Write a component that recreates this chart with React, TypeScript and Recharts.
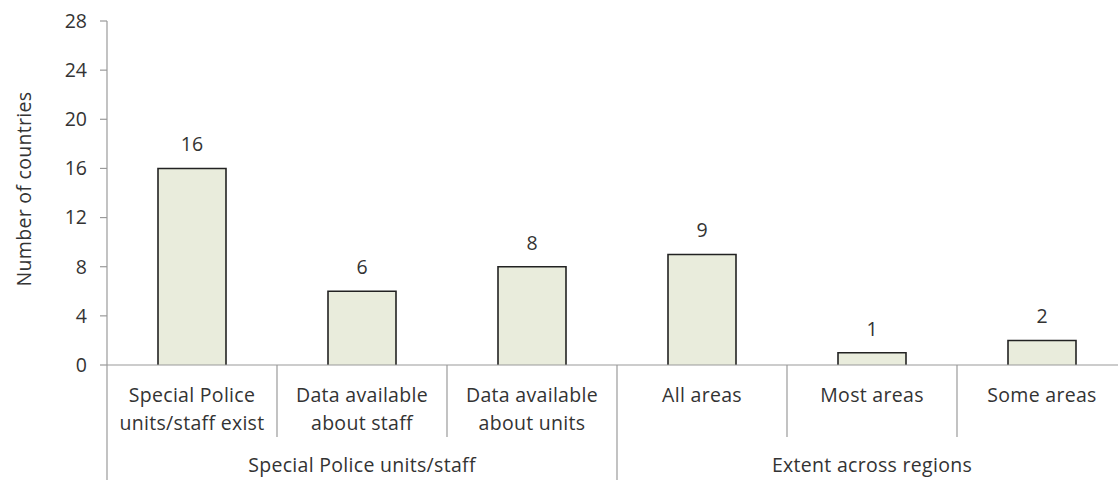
import React from 'react';
import { BarChart, Bar, XAxis, YAxis, LabelList } from 'recharts';

const categories: string[] = [
  'Special Police\nunits/staff exist',
  'Data available\nabout staff',
  'Data available\nabout units',
  'All areas',
  'Most areas',
  'Some areas',
];
const values: number[] = [16, 6, 8, 9, 1, 2];
const groupNames: string[] = ['Special Police units/staff', 'Extent across regions'];
const groupSizes: number[] = [3, 3];
const yTicks: number[] = [0, 4, 8, 12, 16, 20, 24, 28];
const yLabel = 'Number of countries';

const data = categories.map((c, i) => ({ category: c, value: values[i] }));

const FONT = '"Open Sans", sans-serif';
const FS = 19.5;
const LS = 0.3;
const TEXT = '#333333';
const AXIS = '#9a9a9a';
const FILL = '#e9ecdc';

const groupStarts: number[] = [];
const groupEnds: number[] = [];
{
  let s = 0;
  groupSizes.forEach((n) => {
    groupStarts.push(s);
    groupEnds.push(s + n - 1);
    s += n;
  });
}

const CategoryTick = (props: any) => {
  const { x, y, payload, index } = props;
  const half = payload && payload.offset ? payload.offset : 85;
  const lines = String(payload.value).split('\n');
  const gi = groupStarts.indexOf(index);
  const isGroupEnd = groupEnds.indexOf(index) >= 0;
  return (
    <g>
      {lines.map((l, i) => (
        <text
          key={i}
          x={x}
          y={y + 37 + i * 28}
          textAnchor="middle"
          fontFamily={FONT}
          fontSize={FS}
          letterSpacing={LS}
          fill={TEXT}
        >
          {l}
        </text>
      ))}
      {index === 0 && (
        <line x1={x - half} y1={y} x2={x - half} y2={y + 115} stroke={AXIS} strokeWidth={1.2} />
      )}
      <line
        x1={x + half}
        y1={y}
        x2={x + half}
        y2={isGroupEnd ? y + 115 : y + 72}
        stroke={AXIS}
        strokeWidth={1.2}
      />
      {gi >= 0 && (
        <text
          x={x - half + groupSizes[gi] * half}
          y={y + 107}
          textAnchor="middle"
          fontFamily={FONT}
          fontSize={FS}
          letterSpacing={LS}
          fill={TEXT}
        >
          {groupNames[gi]}
        </text>
      )}
    </g>
  );
};

const BarShape = (props: any) => {
  const { x, y, width, height } = props;
  if (!height || height <= 0) return null;
  return (
    <g>
      <rect x={x} y={y} width={width} height={height} fill={FILL} />
      <path
        d={`M${x},${y + height} L${x},${y} L${x + width},${y} L${x + width},${y + height}`}
        fill="none"
        stroke="#222"
        strokeWidth={1.6}
      />
    </g>
  );
};

const YLabel = (props: any) => {
  const vb = props.viewBox || { x: 0, y: 21, width: 107, height: 344 };
  const cx = 23;
  const cy = vb.y + vb.height / 2 - 4;
  return (
    <text
      x={cx}
      y={cy}
      transform={`rotate(-90, ${cx}, ${cy})`}
      textAnchor="middle"
      dominantBaseline="central"
      fontFamily={FONT}
      fontSize={FS}
      letterSpacing={LS}
      fill={TEXT}
    >
      {yLabel}
    </text>
  );
};

export default function App() {
  return (
    <div
      style={{
        position: 'absolute',
        left: 0,
        top: 0,
        width: 1118,
        height: 480,
        overflow: 'hidden',
        background: '#fff',
      }}
    >
      <BarChart
        width={1130}
        height={480}
        data={data}
        margin={{ top: 21, right: 3, left: 0, bottom: 0 }}
        barCategoryGap="30%"
      >
        <YAxis
          width={107}
          domain={[0, 28]}
          ticks={yTicks}
          interval={0}
          tickSize={7}
          tickMargin={13}
          axisLine={{ stroke: AXIS, strokeWidth: 1.2 }}
          tickLine={{ stroke: AXIS, strokeWidth: 1.2 }}
          tick={{ fill: TEXT, fontFamily: FONT, fontSize: FS }}
          label={<YLabel />}
        />
        <XAxis
          dataKey="category"
          height={115}
          interval={0}
          tickLine={false}
          tickSize={0}
          tickMargin={0}
          axisLine={{ stroke: AXIS, strokeWidth: 1.2 }}
          tick={<CategoryTick />}
        />
        <Bar dataKey="value" isAnimationActive={false} shape={<BarShape />}>
          <LabelList
            dataKey="value"
            position="top"
            offset={17}
            fill={TEXT}
            fontFamily={FONT}
            fontSize={FS}
          />
        </Bar>
      </BarChart>
    </div>
  );
}
